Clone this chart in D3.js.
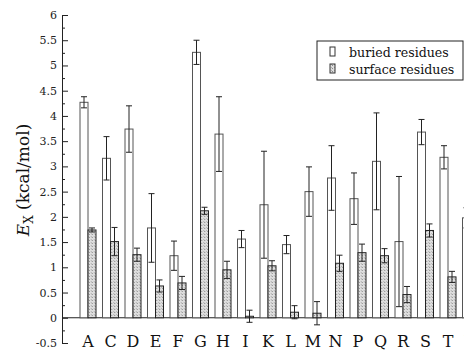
<!DOCTYPE html>
<html>
<head>
<meta charset="utf-8">
<script src="https://cdn.jsdelivr.net/npm/d3@7"></script>
<style>
  body { margin: 0; background: #fff; }
  svg text { font-family: "DejaVu Serif", "Liberation Serif", "Noto Serif", serif; }
</style>
</head>
<body>
<figure id="bar" style="margin:0"></figure>
<script>
const categories = ['A','C','D','E','F','G','H','I','K','L','M','N','P','Q','R','S','T','V'];
const buried     = [4.27,3.16,3.74,1.78,1.23,5.26,3.64,1.56,2.24,1.45,2.50,2.77,2.36,3.10,1.51,3.68,3.18,1.98];
const buriedErr  = [0.11,0.43,0.46,0.68,0.29,0.24,0.74,0.17,1.06,0.18,0.49,0.64,0.51,0.96,1.29,0.25,0.23,0.20];
const surface    = [1.74,1.51,1.25,0.63,0.69,2.12,0.95,0.03,1.03,0.11,0.09,1.08,1.29,1.23,0.46,1.73,0.81,0.90];
const surfaceErr = [0.04,0.28,0.13,0.12,0.13,0.07,0.17,0.12,0.10,0.13,0.23,0.16,0.17,0.14,0.16,0.13,0.11,0.10];
const series = ['buried', 'surface'];
const legendLabels = ['buried residues', 'surface residues'];
const majorTicks = [-0.5,0,0.5,1,1.5,2,2.5,3,3.5,4,4.5,5,5.5,6];

const width = 464, height = 351;
const serif = "DejaVu Serif, Liberation Serif, Noto Serif, serif";

const svg = d3.select("figure#bar")
  .append("svg")
  .attr("width", width)
  .attr("height", height)
  .attr("font-family", serif);

// stippled fill for the surface bars
const pat = svg.append("defs").append("pattern")
  .attr("id", "stipple")
  .attr("patternUnits", "userSpaceOnUse")
  .attr("width", 3).attr("height", 3);
pat.append("rect").attr("width", 3).attr("height", 3).attr("fill", "#dedede");
pat.append("rect").attr("x", 0).attr("y", 0).attr("width", 1).attr("height", 1).attr("fill", "#8a8a8a");
pat.append("rect").attr("x", 2).attr("y", 2).attr("width", 1).attr("height", 1).attr("fill", "#b0b0b0");

const x = d3.scaleBand()
  .domain(categories)
  .range([76.75, 481.75])
  .padding(0);

const xs = d3.scaleBand()
  .domain(series)
  .range([3.25, 19.25]);

const y = d3.scaleLinear()
  .domain([-0.5, 6])
  .range([343, 15]);

const axisX = 62;

// y axis: major and minor ticks pointing inward
const minor = d3.range(-0.5, 6.01, 0.25).filter(v => Math.abs((v * 2) - Math.round(v * 2)) > 1e-6);
svg.append("g")
  .attr("transform", "translate(" + axisX + ",0)")
  .call(d3.axisLeft(y).tickValues(minor).tickSize(-3).tickFormat(""))
  .call(g => g.select(".domain").remove())
  .selectAll("line").attr("stroke", "#222");

const yAxis = svg.append("g")
  .attr("transform", "translate(" + axisX + ",0)")
  .call(d3.axisLeft(y).tickValues(majorTicks).tickSizeInner(-6).tickSizeOuter(0)
    .tickPadding(5).tickFormat(d => String(d)));
yAxis.attr("font-family", serif).attr("font-size", 11);
yAxis.select(".domain").attr("stroke", "#222");
yAxis.selectAll("line").attr("stroke", "#222");
yAxis.selectAll("text")
  .attr("font-size", 11)
  .attr("fill", "#222");

// zero line
svg.append("line")
  .attr("x1", axisX).attr("x2", width)
  .attr("y1", y(0)).attr("y2", y(0))
  .attr("stroke", "#222").attr("stroke-width", 1.2);

// bars
const rows = categories.map((c, i) => ({
  cat: c,
  vals: [
    { s: 'buried', v: buried[i], e: buriedErr[i] },
    { s: 'surface', v: surface[i], e: surfaceErr[i] }
  ]
}));

const groups = svg.selectAll("g.cat")
  .data(rows)
  .enter()
  .append("g")
  .attr("class", "cat")
  .attr("transform", d => "translate(" + x(d.cat) + ",0)");

groups.selectAll("rect")
  .data(d => d.vals)
  .enter()
  .append("rect")
  .attr("x", d => xs(d.s))
  .attr("y", d => y(d.v))
  .attr("width", xs.bandwidth())
  .attr("height", d => y(0) - y(d.v))
  .attr("fill", d => d.s === 'buried' ? "#fff" : "url(#stipple)")
  .attr("stroke", d => d.s === 'buried' ? "#555" : "#222")
  .attr("stroke-width", 1);

// error bars
const err = groups.selectAll("g.err")
  .data(d => d.vals)
  .enter()
  .append("g")
  .attr("class", "err")
  .attr("stroke", "#222")
  .attr("stroke-width", 1);

err.append("line")
  .attr("x1", d => xs(d.s) + xs.bandwidth() / 2)
  .attr("x2", d => xs(d.s) + xs.bandwidth() / 2)
  .attr("y1", d => y(d.v - d.e))
  .attr("y2", d => y(d.v + d.e));
err.append("line")
  .attr("x1", d => xs(d.s) + xs.bandwidth() / 2 - 3)
  .attr("x2", d => xs(d.s) + xs.bandwidth() / 2 + 3)
  .attr("y1", d => y(d.v + d.e))
  .attr("y2", d => y(d.v + d.e));
err.append("line")
  .attr("x1", d => xs(d.s) + xs.bandwidth() / 2 - 3)
  .attr("x2", d => xs(d.s) + xs.bandwidth() / 2 + 3)
  .attr("y1", d => y(d.v - d.e))
  .attr("y2", d => y(d.v - d.e));

// category labels
svg.selectAll("text.cat")
  .data(categories)
  .enter()
  .append("text")
  .attr("class", "cat")
  .attr("x", d => x(d) + x.bandwidth() / 2)
  .attr("y", 347)
  .attr("text-anchor", "middle")
  .attr("font-size", 16)
  .attr("fill", "#111")
  .text(d => d);

// y title
const title = svg.append("text")
  .attr("transform", "translate(29,180) rotate(-90)")
  .attr("text-anchor", "middle")
  .attr("font-size", 17)
  .attr("fill", "#111");
title.append("tspan").attr("font-style", "italic").text("E");
title.append("tspan").attr("font-size", 12).attr("dy", 4).text("X");
title.append("tspan").attr("dy", -4).text(" (kcal/mol)");

// legend
const lg = svg.append("g").attr("transform", "translate(317,41)");
lg.append("rect")
  .attr("width", 146).attr("height", 39)
  .attr("fill", "#fff").attr("stroke", "#222").attr("stroke-width", 1);
lg.selectAll("rect.sw")
  .data(series)
  .enter()
  .append("rect")
  .attr("class", "sw")
  .attr("x", 13)
  .attr("y", (d, i) => 6 + i * 17)
  .attr("width", 5).attr("height", 9)
  .attr("fill", d => d === 'buried' ? "#fff" : "url(#stipple)")
  .attr("stroke", "#333");
lg.selectAll("text")
  .data(legendLabels)
  .enter()
  .append("text")
  .attr("x", 32)
  .attr("y", (d, i) => 16 + i * 17)
  .attr("font-size", 12.6)
  .attr("fill", "#111")
  .text(d => d);
</script>
</body>
</html>
